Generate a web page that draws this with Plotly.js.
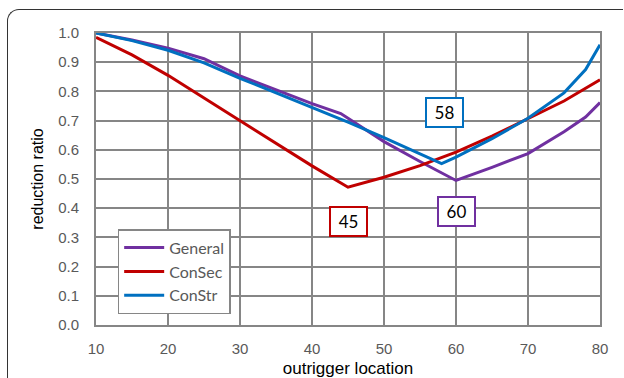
<!DOCTYPE html>
<html>
<head>
<meta charset="utf-8">
<script src="https://cdn.plot.ly/plotly-3.0.1.min.js"></script>
<style>
  html, body { margin: 0; padding: 0; background: #ffffff; }
  #frame { position: absolute; left: 7px; top: 9px; width: 616px; height: 420px;
           border: 1.5px solid #333333; border-right: none; border-bottom: none;
           border-top-left-radius: 12px; box-sizing: border-box; }
  #chart { position: absolute; left: 0; top: 0; width: 624px; height: 378px; }
</style>
</head>
<body>
<div id="frame"></div>
<div id="chart"></div>
<script>
// outrigger location (x)
const locGeneral = [10, 15, 20, 25, 30, 35, 40, 44, 50, 55, 60, 65, 70, 75, 78, 80];
const valGeneral = [1.0, 0.976, 0.948, 0.912, 0.853, 0.805, 0.758, 0.724, 0.628, 0.56, 0.495, 0.54, 0.587, 0.662, 0.712, 0.762];

const locConSec = [10, 15, 20, 25, 30, 35, 40, 45, 50, 55, 60, 65, 70, 75, 80];
const valConSec = [0.985, 0.925, 0.855, 0.777, 0.698, 0.62, 0.545, 0.472, 0.506, 0.546, 0.592, 0.647, 0.706, 0.767, 0.84];

const locConStr = [10, 15, 20, 25, 30, 35, 40, 45, 50, 55, 58, 60, 65, 70, 75, 78, 80];
const valConStr = [1.0, 0.974, 0.941, 0.898, 0.845, 0.795, 0.744, 0.695, 0.642, 0.588, 0.553, 0.575, 0.638, 0.708, 0.795, 0.875, 0.96];

const seriesNames = ['General', 'ConSec', 'ConStr'];
const seriesColors = ['#7030A0', '#C00000', '#0070C0'];

// labelled optimum locations: [label, x, y, series index]
const callouts = [
  ['58', 58.4, 0.728, 2],
  ['45', 45.1, 0.356, 1],
  ['60', 60.1, 0.39, 0]
];

const xs = [locGeneral, locConSec, locConStr];
const ys = [valGeneral, valConSec, valConStr];

const traces = seriesNames.map((n, i) => ({
  x: xs[i], y: ys[i], name: n, type: 'scatter', mode: 'lines',
  line: { color: seriesColors[i], width: 3 }
}));

const gridColor = '#868686';
const layout = {
  width: 624, height: 378,
  margin: { l: 96, r: 24, t: 33, b: 53, pad: 0 },
  paper_bgcolor: 'rgba(0,0,0,0)',
  plot_bgcolor: '#ffffff',
  showlegend: true,
  legend: {
    x: 0.043, y: 0.328, xanchor: 'left', yanchor: 'top',
    bgcolor: '#ffffff', bordercolor: '#868686', borderwidth: 1.5,
    font: { family: 'Lato, "Open Sans", sans-serif', size: 16, color: '#595959' },
    tracegroupgap: 0, itemwidth: 40
  },
  xaxis: {
    range: [10, 80], dtick: 10, tick0: 10,
    showgrid: true, gridcolor: gridColor, gridwidth: 2,
    showline: true, linecolor: gridColor, linewidth: 2, mirror: true,
    zeroline: false, ticks: '', ticklabelstandoff: 9,
    tickfont: { family: '"Liberation Sans", Arial, sans-serif', size: 15, color: '#595959' },
    title: { text: 'outrigger location', standoff: 6,
             font: { family: '"Liberation Sans", Arial, sans-serif', size: 17, color: '#000000' } }
  },
  yaxis: {
    range: [0, 1], dtick: 0.1, tick0: 0, tickformat: '.1f',
    showgrid: true, gridcolor: gridColor, gridwidth: 2,
    showline: true, linecolor: gridColor, linewidth: 2, mirror: true,
    zeroline: false, ticks: '', ticklabelstandoff: 12,
    tickfont: { family: '"Liberation Sans", Arial, sans-serif', size: 15, color: '#595959' },
    title: { text: 'reduction ratio', standoff: 11,
             font: { family: '"Liberation Sans", Arial, sans-serif', size: 16, color: '#000000' } }
  },
  annotations: callouts.map(c => ({
    x: c[1], y: c[2], xref: 'x', yref: 'y', text: c[0], showarrow: false,
    font: { family: 'Lato, "Open Sans", sans-serif', size: 17, color: '#000000' },
    bgcolor: '#ffffff', bordercolor: seriesColors[c[3]], borderwidth: 2,
    borderpad: 2, width: 31, height: 23
  }))
};

Plotly.newPlot('chart', traces, layout, { displayModeBar: false, staticPlot: true });
</script>
</body>
</html>
